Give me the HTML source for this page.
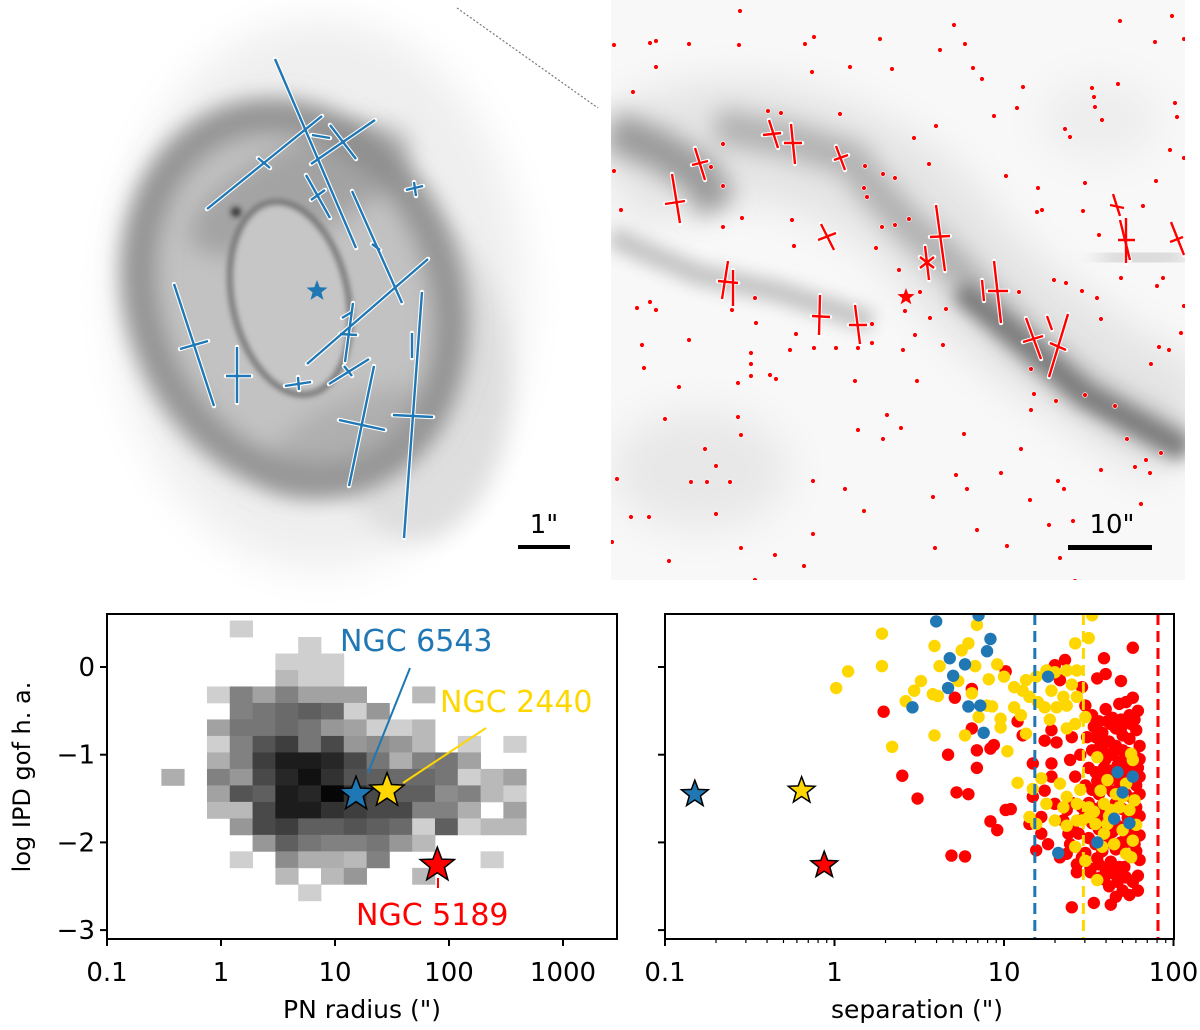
<!DOCTYPE html>
<html><head><meta charset="utf-8"><style>
html,body{margin:0;padding:0;background:#fff;}
svg{display:block;font-family:"DejaVu Sans","Liberation Sans",sans-serif;}
</style></head><body>
<svg id="fig" width="1200" height="1030" viewBox="0 0 1200 1030" xmlns="http://www.w3.org/2000/svg">
<defs>
<filter id="b20" x="-50%" y="-50%" width="200%" height="200%"><feGaussianBlur stdDeviation="20"/></filter>
<filter id="b12" x="-50%" y="-50%" width="200%" height="200%"><feGaussianBlur stdDeviation="12"/></filter>
<filter id="b8" x="-50%" y="-50%" width="200%" height="200%"><feGaussianBlur stdDeviation="8"/></filter>
<filter id="b5" x="-50%" y="-50%" width="200%" height="200%"><feGaussianBlur stdDeviation="5"/></filter>
<filter id="b3" x="-50%" y="-50%" width="200%" height="200%"><feGaussianBlur stdDeviation="3"/></filter>
<clipPath id="clipTR"><rect x="611" y="0" width="574" height="580"/></clipPath>
<clipPath id="clipBL"><rect x="107" y="614" width="510" height="325"/></clipPath>
<clipPath id="clipBR"><rect x="665" y="614" width="509" height="325"/></clipPath>
</defs>

<!-- top-left nebula image -->
<g>
  <ellipse cx="320" cy="295" rx="205" ry="275" fill="#efefef" filter="url(#b20)"/>
  <ellipse cx="415" cy="380" rx="95" ry="160" fill="#dedede" filter="url(#b12)"/>
  <ellipse cx="295" cy="298" rx="165" ry="200" transform="rotate(-22 295 298)" fill="#c2c2c2" filter="url(#b12)"/>
  <ellipse cx="295" cy="298" rx="150" ry="186" transform="rotate(-22 295 298)" fill="none" stroke="#8e8e8e" stroke-width="30" filter="url(#b12)"/>
  <ellipse cx="300" cy="190" rx="120" ry="45" transform="rotate(-25 300 190)" fill="#8a8a8a" filter="url(#b12)" opacity="0.55"/>
  <ellipse cx="350" cy="440" rx="90" ry="40" transform="rotate(-25 350 440)" fill="#999" filter="url(#b12)" opacity="0.45"/>
  <ellipse cx="290" cy="298" rx="58" ry="98" transform="rotate(-12 290 298)" fill="#c6c6c6" filter="url(#b5)"/>
  <ellipse cx="290" cy="298" rx="58" ry="98" transform="rotate(-12 290 298)" fill="none" stroke="#6a6a6a" stroke-width="5" filter="url(#b3)"/>
  <circle cx="236" cy="212" r="5" fill="#333" filter="url(#b3)"/>
  <line x1="457" y1="8" x2="598" y2="108" stroke="#777" stroke-width="1.2" stroke-dasharray="2,2"/>
</g>
<g id="blueCrosses"></g>
<g>
  <rect x="518" y="545" width="52" height="4" fill="#000"/>
  <text x="544" y="533" font-size="26" text-anchor="middle" fill="#000">1"</text>
</g>

<!-- top-right image -->
<g clip-path="url(#clipTR)">
  <rect x="611" y="0" width="574" height="580" fill="#f8f8f8"/>
  <ellipse cx="700" cy="470" rx="90" ry="60" fill="#e8e8e8" filter="url(#b20)"/>
  <ellipse cx="1100" cy="120" rx="60" ry="40" fill="#ededed" filter="url(#b20)"/>
  <path d="M611 180 Q700 120 800 150 T950 250 T1185 430" fill="none" stroke="#e4e4e4" stroke-width="120" filter="url(#b20)"/>
  <path d="M611 130 L660 150 L700 175 L718 208" fill="none" stroke="#9a9a9a" stroke-width="40" filter="url(#b12)"/>
  <path d="M716 125 L790 140 L852 159 L868 182 L910 227 L950 261 L988 303 L1027 341 L1085 390 L1136 420 L1186 447" fill="none" stroke="#b0b0b0" stroke-width="34" filter="url(#b12)"/>
  <path d="M960 290 L1027 345 L1085 395 L1140 425 L1186 450" fill="none" stroke="#7a7a7a" stroke-width="22" filter="url(#b8)"/>
  <path d="M611 236 L640 250 L700 275 L779 292 L872 322" fill="none" stroke="#c4c4c4" stroke-width="22" filter="url(#b8)"/>
  <path d="M1100 260 L1185 255" fill="none" stroke="#dadada" stroke-width="40" filter="url(#b12)"/>
</g>
<g id="redDots" clip-path="url(#clipTR)"></g>
<g id="redCrosses"></g>
<g>
  <rect x="1068" y="545" width="84" height="5" fill="#000"/>
  <text x="1112" y="533" font-size="26" text-anchor="middle" fill="#000">10"</text>
</g>

<g id="chartBL"></g>
<g id="chartBR"></g>
</svg>

<script>
// ===== chart data: PN radius histogram =====
const histLogXStart = -0.523;
const histLogXStep = 0.2;
const histYTop = 0.53;
const histYStep = 0.188;
const histCounts = [
 [0,0,0,2,0,0,0,0,0,0,0,0,0,0,0,0],
 [0,0,0,0,0,0,2,0,0,0,0,0,0,0,0,0],
 [0,0,0,0,0,2,2,2,0,0,0,0,0,0,0,0],
 [0,0,0,0,0,4,2,2,0,0,0,0,0,0,0,0],
 [0,0,2,9,6,9,6,6,6,0,0,4,0,0,0,0],
 [0,0,0,9,10,11,12,11,2,7,0,0,0,0,0,0],
 [0,0,6,10,10,11,10,7,6,2,2,4,0,0,0,0],
 [0,0,2,9,13,15,10,14,7,8,7,4,0,2,0,2],
 [0,0,5,9,15,18,18,17,14,10,5,9,10,6,0,0],
 [5,0,9,7,14,17,19,16,13,12,11,11,10,2,4,6],
 [0,0,6,13,12,18,17,20,16,14,12,12,8,9,4,2],
 [0,0,4,4,14,18,18,16,15,14,14,9,9,5,0,6],
 [0,0,0,7,14,15,12,12,13,12,11,2,12,2,4,4],
 [0,0,0,0,7,12,10,9,9,10,7,4,0,0,0,0],
 [0,0,0,2,0,8,5,5,4,9,0,0,0,0,2,0],
 [0,0,0,0,0,4,0,4,7,0,0,4,0,0,0,0],
 [0,0,0,0,0,0,2,0,0,0,0,0,0,0,0,0]
];
const pnNames = ["NGC 6543","NGC 2440","NGC 5189"];
const pnColors = ["#1f77b4","#ffd700","#ff0000"];
const pnRadius = [15.3, 28.6, 79];
const pnGof = [-1.45, -1.41, -2.26];
const xTicksBL = [0.1, 1, 10, 100, 1000];
const xTickLabelsBL = ["0.1","1","10","100","1000"];
const yTicks = [0, -1, -2, -3];
const yTickLabels = ["0","\u22121","\u22122","\u22123"];

// ===== chart data: separation scatter =====
const starSep = [0.15, 0.64, 0.87];
const starGof = [-1.45, -1.41, -2.26];
const limitSep = [15.2, 29.4, 81];
const xTicksBR = [0.1, 1, 10, 100];
const xTickLabelsBR = ["0.1","1","10","100"];
const redLogSep = [0.29,0.40,0.49,0.67,0.69,0.77,0.72,0.79,0.71,0.81,0.81,0.84,0.84,0.92,0.94,0.92,0.96,1.01,1.04,1.01,1.08,1.11,1.17,1.24,1.28,1.31,1.28,1.33,1.36,1.30,1.59,1.60,1.55,1.69,1.76,1.46,1.48,1.40,1.39,1.40,1.53,1.63,1.43,1.51,1.17,1.15,1.22,1.26,1.33,1.37,1.28,1.24,1.30,1.37,1.41,1.39,1.46,1.35,1.19,1.22,
1.52,1.56,1.60,1.64,1.68,1.72,1.76,1.79,1.74,1.66,1.54,1.58,1.62,1.66,1.70,1.74,1.78,1.80,1.52,1.56,1.60,1.64,1.68,1.72,1.76,1.80,1.50,1.54,1.58,1.62,1.66,1.70,1.74,1.78,1.80,1.48,1.52,1.56,1.60,1.64,1.68,1.72,1.76,1.80,1.50,1.54,1.58,1.62,1.66,1.70,1.74,1.78,1.80,1.52,1.56,1.60,1.64,1.68,1.72,1.76,1.80,1.50,1.54,1.58,1.62,1.66,1.70,1.74,1.78,1.80,1.56,1.60,1.64,1.68,1.72,1.76,1.62,1.70,1.66,1.74,1.79,1.46,1.44,1.48,1.42,1.45,1.49,1.58,1.70,1.77,1.63,1.69,1.75,1.55,1.65,1.75,1.57,1.67,1.40,1.38,
1.53,1.57,1.61,1.65,1.69,1.73,1.77,1.55,1.59,1.63,1.67,1.71,1.75,1.79,1.53,1.57,1.61,1.65,1.69,1.73,1.77,1.51,1.55,1.59,1.63,1.67,1.71,1.79,1.47,1.43];
const redGof = [-0.51,-1.24,-1.50,-1.00,-2.15,-2.16,-1.43,-1.45,-0.35,-0.25,-0.70,-0.95,-1.15,-0.93,-0.89,-1.76,-1.86,-1.63,-1.62,-0.05,-0.62,-0.78,-1.10,-0.84,-0.72,-0.86,-1.10,-0.15,0.08,0.02,0.10,-0.08,-0.13,-0.16,0.22,-0.23,-0.44,-0.80,-1.06,-2.74,-2.69,-2.71,-2.34,-2.34,-1.48,-1.79,-1.90,-2.02,-2.17,-2.13,-1.25,-1.41,-1.56,-1.63,-1.86,-2.02,-2.17,-1.75,-2.09,-1.71,
-0.55,-0.62,-0.48,-0.58,-0.42,-0.40,-0.35,-0.50,-0.55,-0.70,-0.80,-0.75,-0.85,-0.90,-0.78,-0.82,-0.72,-0.90,-0.95,-1.00,-1.05,-1.00,-1.08,-1.10,-1.15,-1.05,-1.15,-1.20,-1.25,-1.18,-1.25,-1.20,-1.30,-1.35,-1.25,-1.35,-1.40,-1.45,-1.35,-1.42,-1.38,-1.45,-1.50,-1.45,-1.55,-1.62,-1.58,-1.65,-1.55,-1.62,-1.68,-1.60,-1.70,-1.78,-1.85,-1.80,-1.88,-1.82,-1.95,-1.88,-1.92,-1.95,-2.02,-2.10,-2.00,-2.08,-2.05,-2.15,-2.10,-2.20,-2.25,-2.30,-2.35,-2.28,-2.40,-2.45,-2.50,-2.55,-2.62,-2.60,-2.38,-1.60,-1.90,-2.12,-1.25,-1.00,-0.80,-0.95,-0.95,-1.00,-0.65,-0.60,-0.65,-1.70,-1.75,-1.78,-2.40,-2.45,-1.55,-1.90,
-0.68,-0.88,-0.62,-0.95,-0.70,-0.98,-0.60,-1.30,-1.15,-1.28,-1.12,-1.32,-1.22,-1.15,-1.72,-1.68,-1.92,-1.76,-2.00,-1.72,-2.02,-2.30,-2.18,-2.42,-2.22,-2.38,-2.28,-2.55,-1.72,-2.25];
const yellowLogSep = [0.28,0.28,0.08,0.01,0.42,0.47,0.51,0.34,0.59,0.59,0.75,0.79,0.84,1.52,1.42,1.50,0.62,0.83,0.96,0.91,1.00,0.58,0.61,0.73,0.81,0.90,0.93,0.85,0.98,0.98,0.77,1.02,1.06,1.11,1.15,1.06,1.13,1.19,1.25,1.30,1.37,1.43,1.28,1.35,1.24,1.31,1.37,1.43,1.48,1.42,1.37,1.13,1.08,1.17,1.22,1.25,1.33,1.37,1.43,1.30,1.37,1.43,1.15,1.19,1.42,1.48,1.55,1.50,1.57,1.61,1.59,1.63,1.54,1.59,1.65,1.70,1.74,1.77,1.75,1.76,1.72,1.75,1.55,1.46,1.50,1.68,1.61,1.76,1.70,1.72,1.10,1.20,1.27,1.40,1.62,1.66,1.78,1.53,1.58,1.45,1.35];
const yellowGof = [0.38,0.01,-0.05,-0.24,-0.39,-0.27,-0.16,-0.91,-0.78,0.24,0.19,0.27,0.48,0.59,0.27,0.33,0.01,0.01,0.03,-0.14,-0.11,-0.31,-0.33,-0.16,-0.30,-0.44,-0.45,-0.57,-0.59,-0.69,-0.78,-0.96,-0.23,-0.27,-0.34,-0.46,-0.15,-0.11,-0.04,-0.06,-0.04,-0.04,-0.27,-0.34,-0.46,-0.46,-0.44,-0.34,-0.57,-0.65,-0.70,-0.76,-1.32,-1.39,-1.27,-1.56,-1.33,-1.48,-1.56,-1.75,-1.81,-1.75,-1.71,-1.79,-2.05,-2.21,-1.03,-1.60,-1.41,-1.29,-1.56,-1.63,-1.79,-1.90,-2.02,-1.86,-1.63,-1.52,-0.99,-1.06,-2.13,-2.17,-2.43,-1.75,-1.71,-1.60,-1.79,-1.98,-1.48,-1.33,-0.55,-0.40,-0.60,-0.20,-1.70,-1.45,-1.80,-1.65,-2.05,-1.40,-1.60];
const blueLogSep = [0.60,0.85,0.92,0.90,0.68,0.77,0.70,0.67,0.46,0.79,0.86,0.88,1.26,1.67,1.76,1.70,1.65,1.74,1.55,1.32];
const blueGof = [0.52,0.59,0.32,0.18,0.10,0.03,-0.10,-0.24,-0.46,-0.45,-0.44,-0.75,-0.11,-1.20,-1.25,-1.43,-1.73,-1.78,-2.00,-2.12];

// ===== image overlay marks (top panels) =====
const blueSegs = [[275,59,356,248],[207,209,322,116],[258,158,270,168],[311,164,375,120],[330,125,356,159],[306,175,330,218],[311,200,325,190],[352,191,402,303],[372,244,380,250],[307,364,428,259],[342,318,352,312],[174,284,214,406],[180,349,208,341],[237,347,237,403],[226,376,251,376],[285,386,311,382],[298,377,299,390],[329,384,369,359],[344,366,352,376],[353,303,345,362],[340,334,357,335],[374,366,349,486],[339,420,385,430],[422,292,404,538],[393,415,433,417],[412,333,412,358],[406,190,423,186],[414,182,416,196],[312,135,330,138]];
const redSegs = [[695,148,705,180],[692,165,708,161],[672,174,680,223],[665,204,685,201],[769,120,778,148],[763,135,781,133],[791,124,795,164],[784,143,802,143],[836,146,845,170],[834,160,848,155],[821,224,834,250],[818,240,836,233],[936,205,945,271],[930,237,950,236],[925,246,929,280],[920,257,934,268],[920,268,934,257],[728,261,722,299],[733,270,733,306],[718,281,738,283],[820,295,819,335],[812,316,830,317],[855,305,860,344],[849,325,867,325],[994,261,1001,323],[988,291,1008,291],[982,280,984,301],[1026,318,1041,359],[1023,342,1043,336],[1068,314,1049,377],[1050,343,1066,350],[1113,194,1120,216],[1110,205,1124,208],[1126,218,1126,263],[1120,220,1130,260],[1118,240,1135,240],[1171,222,1184,255],[1170,242,1183,237],[1047,316,1052,330]];
const fieldDotX = [740,614,650,656,689,739,805,814,880,954,1120,1172,1184,1155,656,812,850,892,940,965,973,982,1023,1092,1118,1175,1094,1095,1102,1177,994,1017,633,936,914,1065,1070,1170,1184,840,768,781,723,711,723,614,621,929,865,883,895,1006,1038,1085,1156,1037,1042,1083,1143,864,867,792,742,723,909,895,882,876,794,1099,899,1054,1066,1082,1019,1097,1121,1163,1157,1101,1184,637,650,656,755,756,732,920,946,930,905,915,872,836,814,790,796,872,858,903,943,1031,1159,1169,1151,1181,642,689,644,751,751,751,770,776,738,679,855,917,1034,1056,1085,1115,1031,887,738,665,741,858,901,883,964,1127,1021,1161,1146,1135,1150,705,716,617,691,707,730,813,845,956,967,1001,1058,1064,1101,631,649,716,864,933,1030,1073,1141,1049,977,813,612,741,775,935,1007,669,804,1060,755,1075];
const fieldDotY = [11,45,43,41,44,45,44,37,39,25,21,16,39,42,67,72,67,69,50,44,68,79,87,88,84,103,97,107,120,117,116,108,92,126,138,129,137,150,158,114,111,113,144,167,186,171,210,164,166,174,178,176,188,183,181,212,210,211,206,188,197,220,218,227,219,225,227,248,246,235,270,280,283,291,292,298,278,278,286,319,306,308,302,310,298,323,310,292,309,318,311,335,324,348,348,350,334,343,348,350,345,369,347,350,364,333,345,340,368,353,364,376,375,379,383,387,381,381,394,401,395,406,410,415,417,419,435,430,428,439,434,439,449,453,460,467,473,449,466,479,482,482,482,481,489,475,489,473,481,489,470,517,517,514,511,497,500,521,504,525,530,534,542,548,555,548,546,561,566,558,580,581];

// ===== helpers =====
const NS = "http://www.w3.org/2000/svg";
function mk(tag, attrs, parent){
  const e = document.createElementNS(NS, tag);
  for (const k in attrs) e.setAttribute(k, attrs[k]);
  parent.appendChild(e);
  return e;
}
function starPath(cx, cy, R){
  const r = R*0.42; let d = "";
  for (let i=0;i<10;i++){
    const a = -Math.PI/2 + i*Math.PI/5;
    const rr = i%2===0 ? R : r;
    d += (i===0?"M":"L") + (cx+rr*Math.cos(a)).toFixed(1) + " " + (cy+rr*Math.sin(a)).toFixed(1);
  }
  return d + "Z";
}

// ===== top-left overlay =====
const bc = document.getElementById("blueCrosses");
blueSegs.forEach(s => {
  const w = mk("line",{x1:s[0],y1:s[1],x2:s[2],y2:s[3],stroke:"#fff","stroke-width":4.5,"stroke-linecap":"round"},bc);
  
  
});
blueSegs.forEach(s => {
  const l = mk("line",{x1:s[0],y1:s[1],x2:s[2],y2:s[3],stroke:"#1f77b4","stroke-width":2.4},bc);
  
  
});
const cstar = mk("path",{d:starPath(317,291,11),fill:"#1f77b4"},bc);



// ===== top-right overlay =====
const rd = document.getElementById("redDots");
fieldDotX.forEach((x,i) => {
  const c = mk("circle",{cx:x,cy:fieldDotY[i],r:2.4,fill:"#ff0000",stroke:"#fff","stroke-width":0.6},rd);
  
  
});
const rc = document.getElementById("redCrosses");
redSegs.forEach(s => {
  const w = mk("line",{x1:s[0],y1:s[1],x2:s[2],y2:s[3],stroke:"#fff","stroke-width":4.5,"stroke-linecap":"round"},rc);
  
  
});
redSegs.forEach(s => {
  const l = mk("line",{x1:s[0],y1:s[1],x2:s[2],y2:s[3],stroke:"#ff0000","stroke-width":2.4},rc);
  
  
});
const rstar = mk("path",{d:starPath(906,297,9),fill:"#ff0000"},rc);



// ===== axes =====
const PT = 614, PB = 939;
function Y(v){ return 667 - v*87.7; }
function XL(x){ return 107 + (Math.log10(x)+1)*114; }
function XLl(l){ return 107 + (l+1)*114; }
function XR(x){ return 665 + (Math.log10(x)+1)*169.5; }
function XRl(l){ return 665 + (l+1)*169.5; }

function drawFrame(g, x0, x1, xTicks, xLabels, xf, showY, minor){
  xTicks.forEach((t,i) => {
    const x = xf(t);
    const tk = mk("line",{x1:x,y1:PB,x2:x,y2:PB+7,stroke:"#000","stroke-width":2},g);
    
    
    const tl = mk("text",{x:x,y:PB+42,"font-size":26,"text-anchor":"middle",fill:"#000"},g);
    tl.textContent = xLabels[i];
    
    
  });
  if (minor){
    for (let d=0; d<xTicks.length-1; d++){
      for (let m=2; m<10; m++){
        const x = xf(xTicks[d]*m);
        const mt = mk("line",{x1:x,y1:PB,x2:x,y2:PB+4,stroke:"#000","stroke-width":1.2},g);
        
        
      }
    }
  }
  yTicks.forEach((t,i) => {
    const y = Y(t);
    const tk = mk("line",{x1:x0-7,y1:y,x2:x0,y2:y,stroke:"#000","stroke-width":2},g);
    
    
    if (showY){
      const tl = mk("text",{x:x0-12,y:y+9,"font-size":26,"text-anchor":"end",fill:"#000"},g);
      tl.textContent = yTickLabels[i];
      
      
    }
  });
  const fr = mk("rect",{x:x0,y:PT,width:x1-x0,height:PB-PT,fill:"none",stroke:"#000","stroke-width":2},g);
  
  
}

// ===== bottom-left chart =====
const gL = document.getElementById("chartBL");
const hm = mk("g",{"clip-path":"url(#clipBL)"},gL);


histCounts.forEach((row,ri) => {
  row.forEach((c,ci) => {
    if (!c) return;
    const xa = XLl(histLogXStart + ci*histLogXStep), xb = XLl(histLogXStart + (ci+1)*histLogXStep);
    const ya = Y(histYTop - ri*histYStep), yb = Y(histYTop - (ri+1)*histYStep);
    const g = Math.round(255*(1 - c/20.5)*0.9);
    const cell = mk("rect",{x:xa,y:ya,width:xb-xa+0.4,height:yb-ya+0.4,fill:`rgb(${g},${g},${g})`},hm);
    
    
  });
});
drawFrame(gL, 107, 617, xTicksBL, xTickLabelsBL, XL, true, false);
const annText = [[340,651],[440,712],[356,925]];
const annLine = [[410,668,368,773],[486,728,403,783],[438,878,438,888]];
pnNames.forEach((n,i) => {
  const ln = mk("line",{x1:annLine[i][0],y1:annLine[i][1],x2:annLine[i][2],y2:annLine[i][3],stroke:pnColors[i],"stroke-width":2},gL);
  
  
});
pnNames.forEach((n,i) => {
  const s = mk("path",{d:starPath(XL(pnRadius[i]),Y(pnGof[i]),18),fill:pnColors[i],stroke:"#000","stroke-width":1.5},gL);
  
  
  const t = mk("text",{x:annText[i][0],y:annText[i][1],"font-size":30,fill:pnColors[i]},gL);
  t.textContent = n;
  
  
});
const ylab = mk("text",{x:0,y:0,"font-size":24,"text-anchor":"middle",fill:"#000",transform:"translate(30 777) rotate(-90)"},gL);
ylab.textContent = "log IPD gof h. a.";


const xlabL = mk("text",{x:362,y:1018,"font-size":25,"text-anchor":"middle",fill:"#000"},gL);
xlabL.textContent = 'PN radius (")';



// ===== bottom-right chart =====
const gR = document.getElementById("chartBR");
const sc = mk("g",{"clip-path":"url(#clipBR)"},gR);


function dots(xs, ys, col, name){
  xs.forEach((l,i) => {
    const c = mk("circle",{cx:XRl(l),cy:Y(ys[i]),r:6.2,fill:col},sc);
    
    
  });
}
dots(redLogSep, redGof, "#ff0000", "point-ngc5189");
dots(yellowLogSep, yellowGof, "#ffd700", "point-ngc2440");
dots(blueLogSep, blueGof, "#1f77b4", "point-ngc6543");
limitSep.forEach((s,i) => {
  const l = mk("line",{x1:XR(s),y1:PT,x2:XR(s),y2:PB,stroke:pnColors[i],"stroke-width":3,"stroke-dasharray":"11,6"},sc);
  
  
});
starSep.forEach((s,i) => {
  const st = mk("path",{d:starPath(XR(s),Y(starGof[i]),14),fill:pnColors[i],stroke:"#000","stroke-width":1.5},gR);
  
  
});
drawFrame(gR, 665, 1174, xTicksBR, xTickLabelsBR, XR, false, true);
const xlabR = mk("text",{x:917,y:1018,"font-size":25,"text-anchor":"middle",fill:"#000"},gR);
xlabR.textContent = 'separation (")';


</script>
</body></html>
